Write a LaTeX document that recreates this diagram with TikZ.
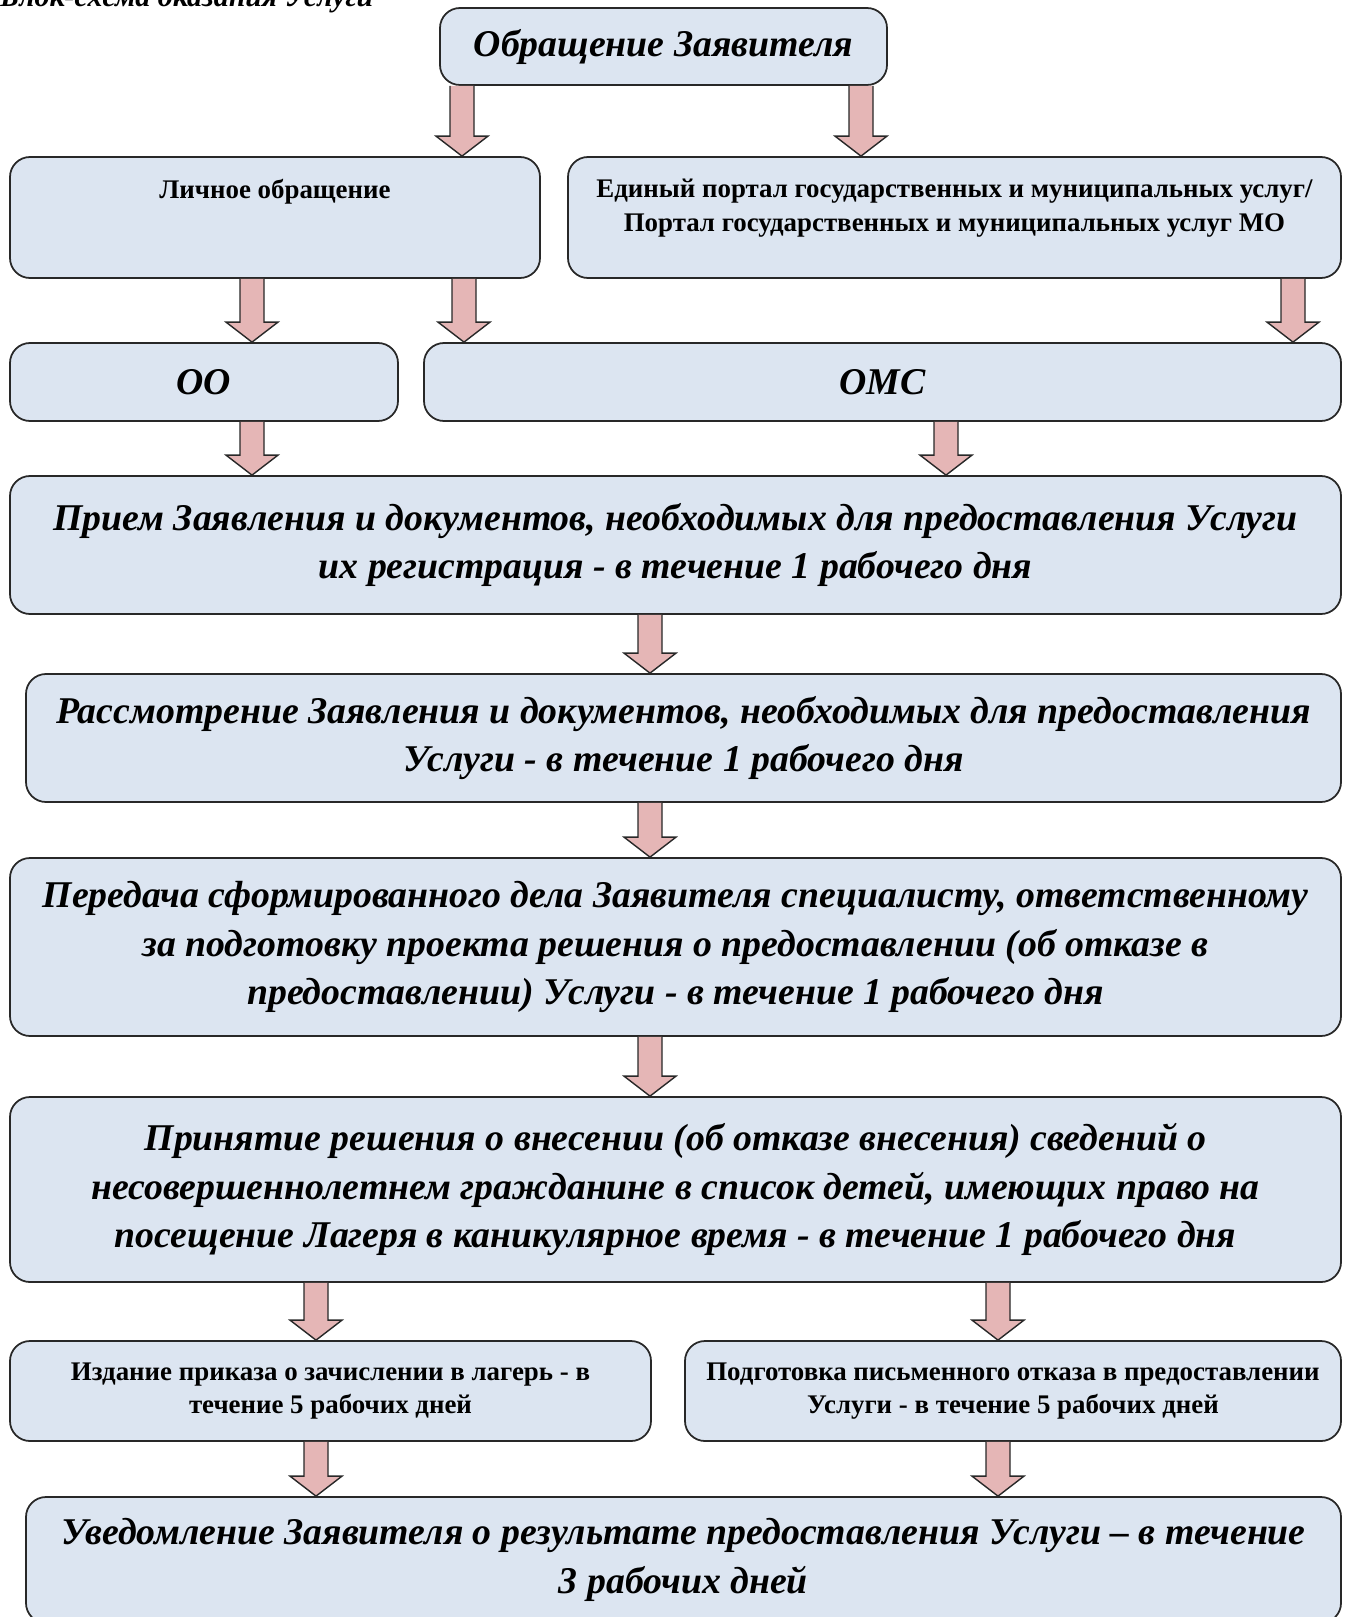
\documentclass[tikz,border=0pt]{standalone}
\usepackage{fontspec}
\setmainfont{Liberation Serif}
\usepackage{tikz}
\usetikzlibrary{calc}
\definecolor{boxblue}{RGB}{220,229,241}
\definecolor{arrowpink}{RGB}{229,182,182}
\definecolor{edgegray}{RGB}{40,40,40}

% block arrow in column #1, from node #2 down to node #3
\newcommand{\flowarrow}[3]{%
  \coordinate (from) at (#1,0 |- #2.south);
  \coordinate (to) at (#1,0 |- #3.north);
  \filldraw[flow] ($(from)+(-12,0)$) -- ($(to)+(-12,-20)$) -- ($(to)+(-26,-20)$) -- (to)
    -- ($(to)+(26,-20)$) -- ($(to)+(12,-20)$) -- ($(from)+(12,0)$);
}

\begin{document}
\begin{tikzpicture}[x=0.2mm, y=-0.2mm,
  stepbox/.style={draw=edgegray, line width=1pt, fill=boxblue, rounded corners=4mm, align=center, inner sep=0pt},
  bigtext/.style={font=\fontsize{21.5}{27.5}\selectfont\bfseries\itshape},
  smalltext/.style={font=\fontsize{15.3}{19}\selectfont\bfseries},
  toptext/.style={smalltext, anchor=north, yshift=-4.6mm, align=center, inner sep=0pt},
  flow/.style={draw=edgegray, line width=0.8pt, fill=arrowpink}]
\useasboundingbox (0,0) rectangle (1349,1617);

% heading, cut at the top of the page
\node[font=\fontsize{17}{20}\selectfont\bfseries\itshape, anchor=base west, inner sep=0pt] (title) at (0,6) {Блок-схема оказания Услуги};

% entry
\node[stepbox, bigtext, minimum width=89.4mm, minimum height=15.4mm] (request) at (663.5,46.5) {Обращение Заявителя};

% ways of applying
\node[stepbox, minimum width=106mm, minimum height=24.2mm,
  label={[toptext]north:{Личное обращение}}] (personal) at (275,217.5) {};
\node[stepbox, minimum width=154.6mm, minimum height=24.2mm,
  label={[toptext]north:{Единый портал государственных и муниципальных услуг/\\Портал государственных и муниципальных услуг МО}}] (portal) at (954.5,217.5) {};

% receivers
\node[stepbox, bigtext, minimum width=77.6mm, minimum height=15.6mm] (oo) at (204,382) {ОО};
\node[stepbox, bigtext, minimum width=183.4mm, minimum height=15.6mm] (omc) at (882.5,382) {ОМС};

% main steps
\node[stepbox, bigtext, minimum width=266.2mm, minimum height=27.6mm] (accept) at (675.5,545)
  {Прием Заявления и документов, необходимых для предоставления Услуги\\их регистрация - в течение 1 рабочего дня};
\node[stepbox, bigtext, minimum width=263mm, minimum height=25.6mm] (review) at (683.5,738)
  {Рассмотрение Заявления и документов, необходимых для предоставления\\Услуги - в течение 1 рабочего дня};
\node[stepbox, bigtext, minimum width=266.2mm, minimum height=35.6mm] (transfer) at (675.5,947)
  {Передача сформированного дела Заявителя специалисту, ответственному\\за подготовку проекта решения о предоставлении (об отказе в\\предоставлении) Услуги - в течение 1 рабочего дня};
\node[stepbox, bigtext, minimum width=266.2mm, minimum height=37mm] (decision) at (675.5,1189.5)
  {Принятие решения о внесении (об отказе внесения) сведений о\\несовершеннолетнем гражданине в список детей, имеющих право на\\посещение Лагеря в каникулярное время - в течение 1 рабочего дня};

% outcome
\node[stepbox, smalltext, minimum width=128.2mm, minimum height=20mm] (order) at (330.5,1391)
  {Издание приказа о зачислении в лагерь - в\\течение 5 рабочих дней};
\node[stepbox, smalltext, minimum width=131.2mm, minimum height=20mm] (refusal) at (1013,1391)
  {Подготовка письменного отказа в предоставлении\\Услуги - в течение 5 рабочих дней};
\node[stepbox, bigtext, minimum width=263mm, minimum height=25.2mm] (notify) at (683.5,1560)
  {Уведомление Заявителя о результате предоставления Услуги – в течение\\3 рабочих дней};

% arrows
\flowarrow{462}{request}{personal}
\flowarrow{861}{request}{portal}
\flowarrow{252}{personal}{oo}
\flowarrow{464}{personal}{omc}
\flowarrow{1293}{portal}{omc}
\flowarrow{252}{oo}{accept}
\flowarrow{946}{omc}{accept}
\flowarrow{650}{accept}{review}
\flowarrow{650}{review}{transfer}
\flowarrow{650}{transfer}{decision}
\flowarrow{316}{decision}{order}
\flowarrow{998}{decision}{refusal}
\flowarrow{316}{order}{notify}
\flowarrow{998}{refusal}{notify}
\end{tikzpicture}
\end{document}
